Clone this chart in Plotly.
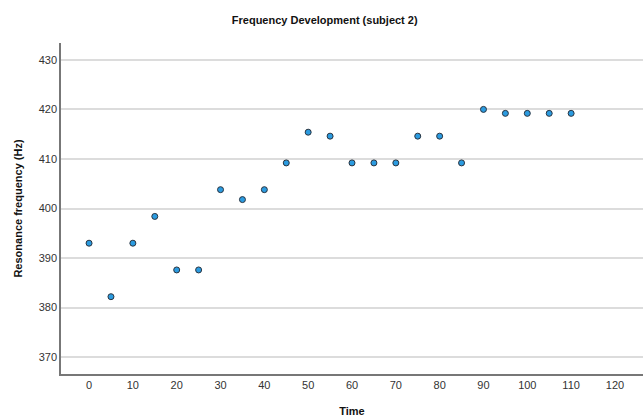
import plotly.graph_objects as go

time = [0, 5, 10, 15, 20, 25, 30, 35, 40, 45, 50, 55, 60, 65, 70, 75, 80, 85, 90, 95, 100, 105, 110]
freq = [393.0, 382.2, 393.0, 398.4, 387.6, 387.6, 403.8, 401.8, 403.8, 409.2, 415.4, 414.6,
        409.2, 409.2, 409.2, 414.6, 414.6, 409.2, 420.0, 419.2, 419.2, 419.2, 419.2]
x_ticks = list(range(0, 121, 10))
y_ticks = list(range(370, 431, 10))

fig = go.Figure()
fig.add_trace(go.Scatter(
    x=time, y=freq, mode="markers",
    marker=dict(size=6, color="#2b9be0", line=dict(color="#2a3440", width=1)),
    showlegend=False,
))

font = "Liberation Sans Narrow, Liberation Sans, Arial, sans-serif"
fig.update_layout(
    width=643, height=417,
    margin=dict(l=61, r=0, t=43, b=39),
    paper_bgcolor="white", plot_bgcolor="white",
    title=dict(text="<b>Frequency Development (subject 2)</b>", x=0.505, xanchor="center",
               y=0.952, yanchor="middle", font=dict(family=font, size=11, color="#111")),
    font=dict(family=font, size=11, color="#333"),
)
fig.update_xaxes(
    range=[-6.4, 126.4], tickvals=x_ticks, showgrid=False, zeroline=False,
    showline=True, linecolor="#777", linewidth=1.5, ticks="",
    tickfont=dict(size=11, color="#333"),
    title=dict(text="<b>Time</b>", font=dict(size=11, color="#111"), standoff=18),
)
fig.update_yaxes(
    range=[366.6, 433.4], tickvals=y_ticks, showgrid=True, gridcolor="#dcdcdc", gridwidth=1.5,
    zeroline=False, showline=True, linecolor="#777", linewidth=1.5, ticks="",
    tickfont=dict(size=11, color="#333"),
    title=dict(text="<b>Resonance frequency (Hz)</b>", font=dict(size=11, color="#111"), standoff=14),
)

fig.write_html("out.html")
